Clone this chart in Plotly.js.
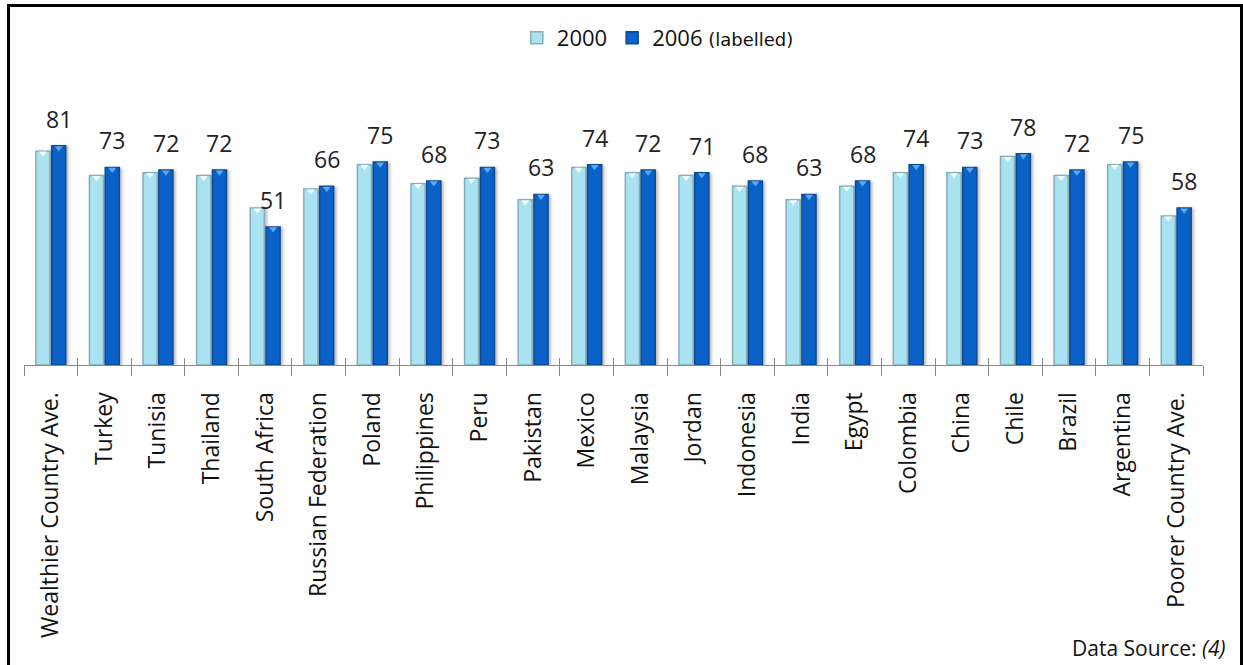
<!DOCTYPE html>
<html>
<head>
<meta charset="utf-8">
<script src="https://cdn.plot.ly/plotly-3.0.1.min.js"></script>
<style>
  html, body { margin: 0; padding: 0; background: #fff; }
  #wrap { position: relative; width: 1243px; height: 665px; overflow: hidden; }
  #chart { width: 1243px; height: 665px; }
  #frame {
    position: absolute; left: 7px; top: 4px; width: 1230px; height: 700px;
    border: 3px solid #000; pointer-events: none;
  }
  /* soft shading to the right of every bar */
  #chart .barlayer .trace path { filter: drop-shadow(2px 1px 1.5px rgba(0,0,0,0.28)); }
</style>
</head>
<body>
<div id="wrap">
  <div id="chart"></div>
  <div id="frame"></div>
</div>
<script>
// Life expectancy (years), 2000 and 2006
const categories = [
  'Wealthier Country Ave.', 'Turkey', 'Tunisia', 'Thailand', 'South Africa',
  'Russian Federation', 'Poland', 'Philippines', 'Peru', 'Pakistan', 'Mexico',
  'Malaysia', 'Jordan', 'Indonesia', 'India', 'Egypt', 'Colombia', 'China',
  'Chile', 'Brazil', 'Argentina', 'Poorer Country Ave.'
];
const values2000 = [79, 70, 71, 70, 58, 65, 74, 67, 69, 61, 73, 71, 70, 66, 61, 66, 71, 71, 77, 70, 74, 55];
const values2006 = [81, 73, 72, 72, 51, 66, 75, 68, 73, 63, 74, 72, 71, 68, 63, 68, 74, 73, 78, 72, 75, 58];
const seriesNames = ['2000', '2006 <span style="font-family:\'DejaVu Sans\';font-size:18px">(labelled)</span>'];

const BARGAP = 0.41, GROUPGAP = 0.11;
const slot = (1 - BARGAP) / 2;            // width of one series slot, in category units
const idx = categories.map((_, i) => i);
const boundaries = categories.map((_, i) => i - 0.5).concat([categories.length - 0.5]);
const xRange = [-0.5, categories.length - 0.5];

const plotH = 300, pxPerYear = 2.707;
const yMax = plotH / pxPerYear;
const capDrop = 0.8;                       // bevel markers sit just under each bar top

const FONT = 'Open Sans';
const lightFill = '#a9e3f1', lightEdge = '#86aeb9';
const darkFill = '#0a61c8', darkEdge = '#0d4a93';
const axisGrey = '#8a8a8a';

const traces = [
  {
    type: 'bar', name: seriesNames[0], x: idx, y: values2000,
    marker: { color: lightFill, line: { color: lightEdge, width: 1.5 } },
    hoverinfo: 'skip'
  },
  {
    type: 'bar', name: seriesNames[1], x: idx, y: values2006,
    marker: { color: darkFill, line: { color: darkEdge, width: 1.5 } },
    hoverinfo: 'skip'
  },
  {
    type: 'scatter', mode: 'markers', xaxis: 'x2', yaxis: 'y2', showlegend: false,
    x: idx.map(i => i - slot / 2), y: values2000,
    marker: { symbol: 'triangle-down', size: 7, color: '#eefbff', line: { width: 0 } },
    hoverinfo: 'skip'
  },
  {
    type: 'scatter', mode: 'markers', xaxis: 'x3', yaxis: 'y2', showlegend: false,
    x: idx.map(i => i + slot / 2), y: values2006,
    marker: { symbol: 'triangle-down', size: 7, color: '#58aaf0', line: { width: 0 } },
    hoverinfo: 'skip'
  }
];

const valueLabels = values2006.map((v, i) => ({
  x: i + slot / 2, y: v, xref: 'x', yref: 'y',
  text: String(v), showarrow: false, yanchor: 'bottom', yshift: 9,
  font: { family: FONT, size: 23, color: '#222' }
}));

const layout = {
  width: 1243, height: 665,
  margin: { l: 24, r: 40, t: 65, b: 300 },
  paper_bgcolor: '#fff', plot_bgcolor: 'rgba(0,0,0,0)',
  barmode: 'group', bargap: BARGAP, bargroupgap: GROUPGAP,
  showlegend: true,
  legend: {
    orientation: 'h', x: 0.418, xanchor: 'left', y: 1.16, yanchor: 'top',
    font: { family: FONT, size: 22, color: '#111' }, itemclick: false, itemdoubleclick: false
  },
  // category names, centred under each pair of bars
  xaxis: {
    type: 'linear', range: xRange, fixedrange: true,
    tickmode: 'array', tickvals: idx, ticktext: categories,
    tickangle: -90, ticks: '', ticklabelstandoff: 17,
    showline: true, linecolor: axisGrey, linewidth: 1,
    showgrid: false, zeroline: false,
    tickfont: { family: FONT, size: 23, color: '#111' }
  },
  // divider ticks below the axis line
  xaxis2: {
    type: 'linear', overlaying: 'x', anchor: 'y', range: xRange, fixedrange: true,
    tickmode: 'array', tickvals: boundaries, showticklabels: false,
    ticks: 'outside', ticklen: 10, tickwidth: 1, tickcolor: axisGrey,
    showline: false, showgrid: false, zeroline: false
  },
  // divider ticks above the axis line
  xaxis3: {
    type: 'linear', overlaying: 'x', anchor: 'y2', range: xRange, fixedrange: true,
    tickmode: 'array', tickvals: boundaries, showticklabels: false,
    ticks: 'inside', ticklen: 7, tickwidth: 1, tickcolor: axisGrey,
    showline: false, showgrid: false, zeroline: false
  },
  yaxis: { range: [0, yMax], visible: false, fixedrange: true },
  yaxis2: { range: [capDrop, yMax + capDrop], overlaying: 'y', visible: false, fixedrange: true },
  annotations: valueLabels.concat([{
    xref: 'paper', yref: 'paper', x: 1.0204, y: -0.943, xanchor: 'right', yanchor: 'middle',
    text: 'Data Source: <i>(4)</i>', showarrow: false,
    font: { family: FONT, size: 21, color: '#111' }
  }])
};

Plotly.newPlot('chart', traces, layout, { displayModeBar: false, staticPlot: true });
</script>
</body>
</html>
